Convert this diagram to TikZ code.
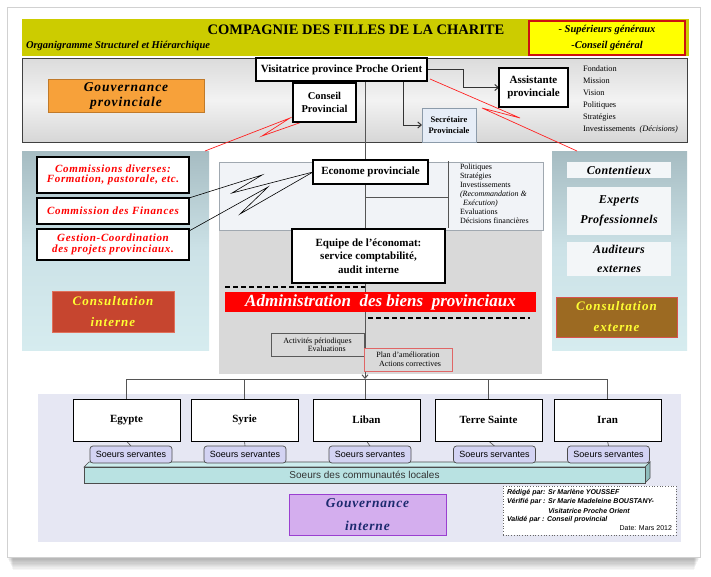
\documentclass[tikz,border=0pt]{standalone}
\usepackage{fontspec}
\setmainfont{Liberation Serif}
\setsansfont{Liberation Sans}
\usetikzlibrary{arrows.meta}
\pgfdeclarelayer{back}
\pgfdeclarelayer{mid}
\pgfsetlayers{back,mid,main}
\newcommand{\myfs}[2]{\fontsize{#1}{#2}\selectfont}
\newcommand{\wide}[1]{\addfontfeatures{LetterSpace=#1}}
\definecolor{cTitle}{HTML}{CCCC00}
\definecolor{cYbox}{HTML}{FFFF00}
\definecolor{cRedB}{HTML}{CC1111}
\definecolor{cOrange}{HTML}{F7A13A}
\definecolor{cOrangeB}{HTML}{C07A2A}
\definecolor{cPanTop}{HTML}{A6BCC2}
\definecolor{cPanMid}{HTML}{CCE2E7}
\definecolor{cPanBot}{HTML}{D6ECEF}
\definecolor{cPanelBox}{HTML}{F3F6F8}
\definecolor{cConsI}{HTML}{C6452F}
\definecolor{cConsIB}{HTML}{E0705A}
\definecolor{cConsE}{HTML}{9C6A22}
\definecolor{cConsEB}{HTML}{D9534F}
\definecolor{cYel}{HTML}{FFFF33}
\definecolor{cRedT}{HTML}{FF0000}
\definecolor{cMidTop}{HTML}{F1F3F7}
\definecolor{cMidTopB}{HTML}{A0A8B0}
\definecolor{cMidGray}{HTML}{D9D9D9}
\definecolor{cSec}{HTML}{E6EDF7}
\definecolor{cSecB}{HTML}{8C9BAA}
\definecolor{cSS}{HTML}{D3D3F3}
\definecolor{cBar}{HTML}{B9E2E2}
\definecolor{cBarTop}{HTML}{CDEDED}
\definecolor{cBarSide}{HTML}{8FBDBD}
\definecolor{cLav}{HTML}{E6E7F3}
\definecolor{cPurple}{HTML}{D4AEEE}
\definecolor{cPurpleB}{HTML}{9A3FD0}
\definecolor{cNavy}{HTML}{1C2A6E}
\definecolor{cLine}{HTML}{555555}
\definecolor{cRedL}{HTML}{FF2222}
\definecolor{cPlanB}{HTML}{E06666}
\begin{document}
\begin{tikzpicture}[x=1pt,y=-1pt,
  every node/.style={inner sep=0pt, outer sep=0pt},
  wbox/.style={draw=black, line width=1.2pt, fill=white, align=center},
  redbox/.style={draw=black, line width=1.2pt, fill=white, align=center, text=cRedT, font=\bfseries\itshape\myfs{11}{10.5}\wide{6}},
  panelbox/.style={fill=cPanelBox, align=center, font=\bfseries\itshape\myfs{12}{20}\wide{3}},
  consult/.style={line width=0.8pt, align=center, text=cYel, font=\bfseries\itshape\myfs{13}{21}\wide{8}},
  country/.style={draw=black, line width=0.9pt, fill=white, minimum width=107pt, minimum height=42pt, font=\bfseries\myfs{11}{13}},
  ss/.style={draw=black!70, line width=0.7pt, fill=cSS, rounded corners=3pt, minimum width=82pt, minimum height=17pt, font=\sffamily\myfs{9}{10}},
  conn/.style={draw=cLine, line width=1pt},
  arr/.style={conn, -{Straight Barb[length=3.5pt,width=6pt]}},
  zig/.style={draw=black, line width=0.6pt},
  rzig/.style={draw=cRedL, line width=0.7pt},
  dsh/.style={draw=black, line width=1.3pt, dash pattern=on 4.5pt off 3.5pt},
  sig/.style={anchor=west, font=\sffamily\bfseries\itshape\myfs{7}{8}}
]
\useasboundingbox (0,0) rectangle (711,576);

% ---------- background layer ----------
\begin{pgfonlayer}{back}
\foreach \i in {1,...,10} {\fill[black,opacity=0.035] (7+0.6*\i,540) rectangle (700-0.6*\i,557+1.3*\i);}
\draw[draw=black!18, fill=white] (7,7) rectangle (700,557);
\fill[cTitle] (22,19) rectangle (689,56);
\draw[draw=black!75, line width=0.8pt, top color=black!14, bottom color=black!16, middle color=black!5] (22,58) rectangle (687,142);
\draw[draw=none, top color=cPanTop, bottom color=cPanBot, middle color=cPanMid] (22,151) rectangle (209,350);
\draw[draw=none, top color=cPanTop, bottom color=cPanBot, middle color=cPanMid] (552,151) rectangle (687,350);
\fill[cMidGray] (219,230) rectangle (542,374);
\draw[draw=cMidTopB, line width=1pt, fill=cMidTop] (219,162) rectangle (543,230);
\fill[cLav] (38,394) rectangle (681,542);
\end{pgfonlayer}

% ---------- title ----------
\node[font=\bfseries\myfs{14.5}{16}] (title) at (356,30) {COMPAGNIE DES FILLES DE LA CHARITE};
\node[anchor=west, font=\bfseries\itshape\myfs{10.5}{12}] (subtitle) at (26,46) {Organigramme Structurel et Hiérarchique};
\node[draw=cRedB, line width=1.1pt, fill=cYbox, minimum width=156pt, minimum height=34pt, align=center, font=\bfseries\itshape\myfs{10.5}{16}] (sup) at (607,38) {- Supérieurs généraux\\-Conseil général};

% ---------- gouvernance provinciale ----------
\node[draw=cOrangeB, line width=0.8pt, fill=cOrange, minimum width=156pt, minimum height=33pt, align=center, font=\bfseries\itshape\myfs{13.5}{15}\wide{7}] (gp) at (126,95.5) {Gouvernance\\provinciale};
\node[wbox, minimum width=171pt, minimum height=23pt, font=\bfseries\myfs{11}{13}] (vis) at (341.5,69.5) {Visitatrice province Proche Orient};
\node[wbox, minimum width=63pt, minimum height=39pt, font=\bfseries\myfs{10.5}{13}] (cons) at (324.5,102.5) {Conseil\\Provincial};
\node[draw=cSecB, line width=1pt, fill=cSec, minimum width=54pt, minimum height=34pt, align=center, font=\bfseries\myfs{8.5}{11}] (sec) at (449,125) {Secrétaire\\Provinciale};
\node[wbox, minimum width=69pt, minimum height=39pt, font=\bfseries\myfs{11}{13}] (asst) at (533.5,87.5) {Assistante\\provinciale};
\node[anchor=north west, align=left, font=\myfs{8.3}{12}] (gvlist) at (583,66) {Fondation\\Mission\\Vision\\Politiques\\Stratégies\\Investissements\ \ \textit{(Décisions)}};

% ---------- left panel ----------
\node[redbox, minimum width=152pt, minimum height=36pt] (comd) at (113,175) {Commissions diverses:\\Formation, pastorale, etc.};
\node[redbox, minimum width=152pt, minimum height=26pt] (fin) at (113,211) {Commission des Finances};
\node[redbox, minimum width=152pt, minimum height=31pt] (gest) at (113,244.5) {Gestion-Coordination\\des projets provinciaux.};
\node[consult, draw=cConsIB, fill=cConsI, minimum width=122pt, minimum height=41pt] (ci) at (113,311.5) {Consultation\\interne};

% ---------- right panel ----------
\node[panelbox, minimum width=104pt, minimum height=16pt] (cont) at (619,170) {Contentieux};
\node[panelbox, minimum width=104pt, minimum height=48pt] (exp) at (619,211) {Experts\\Professionnels};
\node[panelbox, minimum width=104pt, minimum height=34pt, font=\bfseries\itshape\myfs{12}{19}\wide{3}] (aud) at (619,259) {Auditeurs\\externes};
\node[consult, draw=cConsEB, fill=cConsE, minimum width=121pt, minimum height=40pt] (ce) at (616.5,317) {Consultation\\externe};

% ---------- middle ----------
\node[wbox, minimum width=115pt, minimum height=24pt, font=\bfseries\myfs{11}{13}] (econ) at (370.5,172) {Econome provinciale};
\node[anchor=north west, align=left, font=\myfs{8}{9}] (eclist) at (460,163.5) {Politiques\\Stratégies\\Investissements\\\textit{(Recommandation \&}\\\hspace*{3pt}\textit{Exécution)}\\Evaluations\\Décisions financières};
\node[wbox, minimum width=153pt, minimum height=54pt, font=\bfseries\myfs{11}{13.5}] (equipe) at (368.5,256) {Equipe de l’économat:\\service comptabilité,\\audit interne};
\node[fill=red, minimum width=311pt, minimum height=20pt, text=white, font=\bfseries\itshape\myfs{17}{18}] (admin) at (380.5,302) {Administration\hspace{0.5em}des biens\hspace{0.5em}provinciaux};
\node[draw=black!65, line width=0.8pt, fill=cMidGray, minimum width=93pt, minimum height=23pt, align=right, font=\myfs{8}{8.5}] (act) at (317.5,344.5) {Activités périodiques\\Evaluations\hspace*{6pt}};
\node[draw=cPlanB, line width=1pt, fill=cMidGray, minimum width=88pt, minimum height=23pt, align=center, font=\myfs{8}{9}] (plan) at (408,359.5) {Plan d’amélioration\\\hspace*{4pt}Actions correctives};

% ---------- bottom ----------
\node[country] (egypt) at (126.5,420) {Egypte};
\node[country] (syria) at (244.5,420) {Syrie};
\node[country] (liban) at (366.5,420) {Liban};
\node[country] (terre) at (488.5,420) {Terre Sainte};
\node[country] (iran) at (607.5,420) {Iran};

\fill[cBarTop, draw=black!70, line width=0.6pt] (84,467) -- (89,462) -- (650,462) -- (645,467) -- cycle;
\fill[cBarSide, draw=black!70, line width=0.6pt] (645,467) -- (650,462) -- (650,478) -- (645,483) -- cycle;
\node[draw=black!70, line width=0.6pt, fill=cBar, minimum width=561pt, minimum height=16pt, text=black!80, font=\sffamily\myfs{10}{11}] (bar) at (364.5,475) {Soeurs des communautés locales};

\node[ss] (ss1) at (131,454.5) {Soeurs servantes};
\node[ss] (ss2) at (245,454.5) {Soeurs servantes};
\node[ss] (ss3) at (370,454.5) {Soeurs servantes};
\node[ss] (ss4) at (494.5,454.5) {Soeurs servantes};
\node[ss] (ss5) at (608.5,454.5) {Soeurs servantes};

\node[draw=black!60, dotted, line width=0.7pt, fill=white, minimum width=173pt, minimum height=49pt] (sigbox) at (589.5,510.5) {};
\node[sig] (s1) at (507,493) {Rédigé par: Sr Marlène YOUSSEF};
\node[sig] (s2) at (507,502) {Vérifié par : Sr Marie Madeleine BOUSTANY-};
\node[sig, anchor=center] (s3) at (589,511) {Visitatrice Proche Orient};
\node[sig] (s4) at (507,520) {Validé par : Conseil provincial};
\node[anchor=east, font=\sffamily\myfs{7}{8}] (s5) at (672,528) {Date: Mars 2012};

\node[draw=cPurpleB, line width=1pt, fill=cPurple, minimum width=157pt, minimum height=41pt, align=center, text=cNavy, font=\bfseries\itshape\myfs{13.5}{23}\wide{6}] (gi) at (367.5,514.5) {Gouvernance\\interne};

% ---------- connectors ----------
\begin{pgfonlayer}{mid}
\coordinate (cx) at (365,0);
\coordinate (ty) at (0,379);
\draw[conn] (vis.south -| cx) -- (econ.north -| cx);
\draw[conn] (econ.south -| cx) -- (equipe.north -| cx);
\draw[arr] (equipe.south -| cx) -- (cx |- ty);
\draw[conn] (egypt.north |- ty) -- (iran.north |- ty);
\draw[conn] (egypt.north |- ty) -- (egypt.north);
\draw[conn] (syria.north |- ty) -- (syria.north);
\draw[conn] (cx |- ty) -- (cx |- liban.north);
\draw[conn] (terre.north |- ty) -- (terre.north);
\draw[conn] (iran.north |- ty) -- (iran.north);

\draw[arr, draw=black!80] (vis.east) -- ++(36,0) |- (asst.west);
\draw[arr, draw=black!80] ([xshift=61.5pt]vis.south) |- (sec.west);

\coordinate (br) at (448,197);
\coordinate (brt) at (448,161);
\coordinate (brb) at (448,228);
\draw[conn, line width=0.8pt] (cx |- br) -- (br);
\draw[conn, line width=0.8pt] (brt) -- (brb);

\coordinate (lp) at (205,151);
\coordinate (rp) at (577,151);
\draw[rzig] ([xshift=9pt]cons.south west) -- (262,136) -- ([xshift=-3pt,yshift=4pt]cons.south west) -- (lp);
\draw[rzig] ([xshift=3pt,yshift=2pt]vis.south east) -- (520,118) -- (482,108) -- (rp);

\draw[zig] (fin.north east) -- (262,175) -- (232,193) -- (econ.west);
\draw[zig] ([yshift=-2pt]gest.north east) -- (268,187) -- (240,214) -- (econ.west);

\draw[dsh] (225,287) -- (365,287);
\draw[dsh] (368,318) -- (530,318);

\draw[draw=black!70, line width=0.6pt] (egypt.south) -- (ss1.north);
\draw[draw=black!70, line width=0.6pt] (syria.south) -- (ss2.north);
\draw[draw=black!70, line width=0.6pt] (liban.south) -- (ss3.north);
\draw[draw=black!70, line width=0.6pt] (terre.south) -- (ss4.north);
\draw[draw=black!70, line width=0.6pt] (iran.south) -- (ss5.north);
\end{pgfonlayer}
\end{tikzpicture}
\end{document}
